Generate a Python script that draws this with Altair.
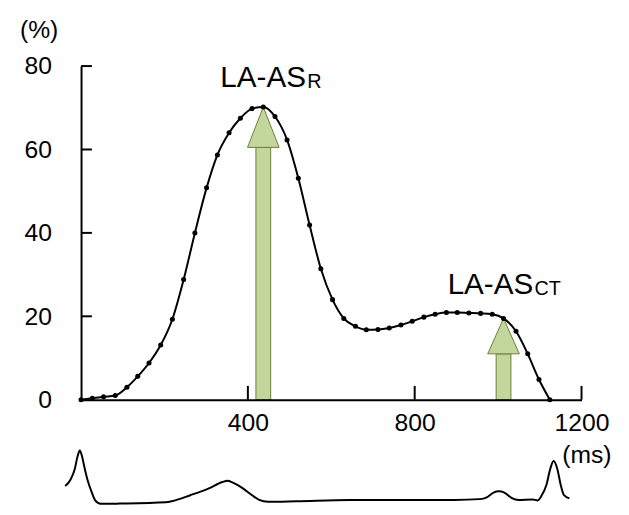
import altair as alt
import pandas as pd

# ---- main curve (LA area strain, %) ----
t_ms = [0, 27, 54, 82, 110, 136, 163, 191, 219, 246, 273, 301, 327, 355, 382, 410,
        437, 465, 494, 521, 548, 575, 603, 630, 658, 684, 712, 739, 767, 794, 822,
        849, 876, 902, 930, 958, 986, 1013, 1043, 1071, 1098, 1124]
pct = [0, 0.35, 0.7, 1.0, 3.0, 5.6, 8.8, 13.1, 19.3, 28.8, 40.0, 50.8, 58.7, 64.0,
       67.5, 69.8, 70.2, 67.9, 62.3, 53.1, 41.9, 31.4, 24.0, 19.5, 17.6, 16.8, 16.85,
       17.2, 17.9, 18.8, 19.8, 20.5, 20.9, 20.9, 20.8, 20.7, 20.5, 19.5, 16.4, 11.0,
       4.85, 0]

# ---- arrows ----
arrow_t = [437, 1013]
arrow_tip = [70.2, 19.5]
arrow_head_base = [60.5, 11.0]

# ---- labels ----
label_main = ["LA-AS", "LA-AS"]
label_sub = ["R", "CT"]
label_t = [334, 879]
label_v = [75.1, 25.4]

# ---- axes ----
x_tick_labels = [400, 800, 1200]
y_tick_labels = [0, 20, 40, 60, 80]

# ---- ECG trace (relative units) ----
ecg_t = [-38, -25, -15, -8, -3, 2, 9, 17, 26, 34, 47, 93, 203, 220, 262, 305, 339,
         351, 364, 389, 410, 427, 448, 516, 643, 896, 956, 973, 989, 1002, 1015,
         1032, 1049, 1082, 1095, 1103, 1116, 1125, 1133, 1142, 1150, 1158, 1171]
ecg_v = [68, 93, 133, 183, 203, 183, 133, 83, 43, 13, 0, 1, 6, 11, 33, 58, 83, 88,
         81, 58, 33, 15, 8, 10, 15, 15, 18, 25, 43, 48, 43, 23, 15, 17, 13, 28, 73,
         133, 163, 133, 73, 33, 21]

FONT = "Liberation Sans"
PLOT_W = 507
MAIN_H = 338
TOTAL_H = 445
SHAFT_HALF = 17.7   # ms
HEAD_HALF = 37.9    # ms
FILL = "#c3d69b"
EDGE = "#6b7d3a"

X = alt.Scale(domain=[0, 1200], nice=False, zero=False)
Y = alt.Scale(domain=[0, 80], range=[MAIN_H, 0], nice=False, zero=False)

curve = pd.DataFrame({"t": t_ms, "v": pct})
shaft = pd.DataFrame({
    "t": [a - SHAFT_HALF for a in arrow_t],
    "t2": [a + SHAFT_HALF for a in arrow_t],
    "v": [0, 0],
    "v2": arrow_head_base,
})
head_rows = []
for i, (a, tip, base) in enumerate(zip(arrow_t, arrow_tip, arrow_head_base)):
    head_rows += [
        {"id": i, "t": a - HEAD_HALF, "v": base, "v2": base},
        {"id": i, "t": a, "v": tip, "v2": base},
        {"id": i, "t": a + HEAD_HALF, "v": base, "v2": base},
    ]
head = pd.DataFrame(head_rows)
labels = pd.DataFrame({"t": label_t, "v": label_v, "main": label_main, "sub": label_sub})
ecg = pd.DataFrame({"t": ecg_t, "v": ecg_v})
yticks = pd.DataFrame({"v": [v for v in y_tick_labels if v > 0]})
xticks = pd.DataFrame({"t": x_tick_labels})

x_axis = alt.Axis(values=x_tick_labels, format="d", ticks=False, offset=-(TOTAL_H - MAIN_H),
                  labelPadding=11, labelFontSize=25, labelFont=FONT, labelColor="black",
                  labelFlush=False, domainColor="black", domainWidth=2, grid=False,
                  title="(ms)", titleX=487, titleY=63.5, titleAlign="left",
                  titleBaseline="alphabetic", titleFontSize=25, titleFont=FONT,
                  titleFontWeight="normal", titleColor="black", zindex=1)
y_axis = alt.Axis(values=y_tick_labels, format="d", ticks=False, labelPadding=30, labelFontSize=25,
                  labelFont=FONT, labelColor="black", domainColor="black", domainWidth=2,
                  grid=False, title="(%)", titleAngle=0, titleX=-43, titleY=-28.5,
                  titleAlign="center", titleBaseline="alphabetic", titleFontSize=25,
                  titleFont=FONT, titleFontWeight="normal", titleColor="black", zindex=1)


def xenc(field="t"):
    return alt.X(f"{field}:Q", scale=X, axis=x_axis, title="(ms)")


def yenc(field="v"):
    return alt.Y(f"{field}:Q", scale=Y, axis=y_axis, title="(%)")


shaft_layer = alt.Chart(shaft).mark_rect(fill=FILL, stroke=EDGE, strokeWidth=1).encode(
    x=xenc(), x2="t2:Q", y=yenc(), y2="v2:Q")
head_layer = alt.Chart(head).mark_area(fill=FILL, stroke=EDGE, strokeWidth=1).encode(
    x=xenc(), y=yenc(), y2="v2:Q", detail="id:N")
line_layer = alt.Chart(curve).mark_line(color="black", strokeWidth=2, interpolate="monotone").encode(
    x=xenc(), y=yenc())
pts_layer = alt.Chart(curve).mark_circle(color="black", size=26, opacity=1).encode(
    x=xenc(), y=yenc())
ytick_layer = alt.Chart(yticks).mark_rule(color="black", strokeWidth=2).encode(
    y=yenc(), x=alt.value(0), x2=alt.value(11))
xtick_layer = alt.Chart(xticks).mark_rule(color="black", strokeWidth=2).encode(
    x=xenc(), y=alt.value(MAIN_H), y2=alt.value(MAIN_H - 14))
main_text = alt.Chart(labels).mark_text(align="left", baseline="alphabetic", fontSize=30,
                                        font=FONT, color="black").encode(
    x=xenc(), y=yenc(), text="main:N")
sub_text = alt.Chart(labels).mark_text(align="left", baseline="alphabetic", fontSize=20,
                                       font=FONT, color="black", dx=88, dy=1.5).encode(
    x=xenc(), y=yenc(), text="sub:N")

main = alt.layer(shaft_layer, head_layer, line_layer, pts_layer, ytick_layer,
                 xtick_layer, main_text, sub_text)

ecg_layer = alt.Chart(ecg).mark_line(color="black", strokeWidth=2, interpolate="monotone").encode(
    x=xenc(),
    y=alt.Y("v:Q", scale=alt.Scale(domain=[0, 203], range=[443.5, 389.5], nice=False, zero=False),
            axis=None))

chart = alt.layer(main, ecg_layer).resolve_scale(y="independent").properties(
    width=PLOT_W, height=TOTAL_H, background="white",
    autosize=alt.AutoSizeParams(type="none"),
    padding={"left": 74, "top": 55.5, "right": 40, "bottom": 10},
).configure_view(stroke=None)

chart.save("out.html", embed_options={"renderer": "svg", "actions": False})
